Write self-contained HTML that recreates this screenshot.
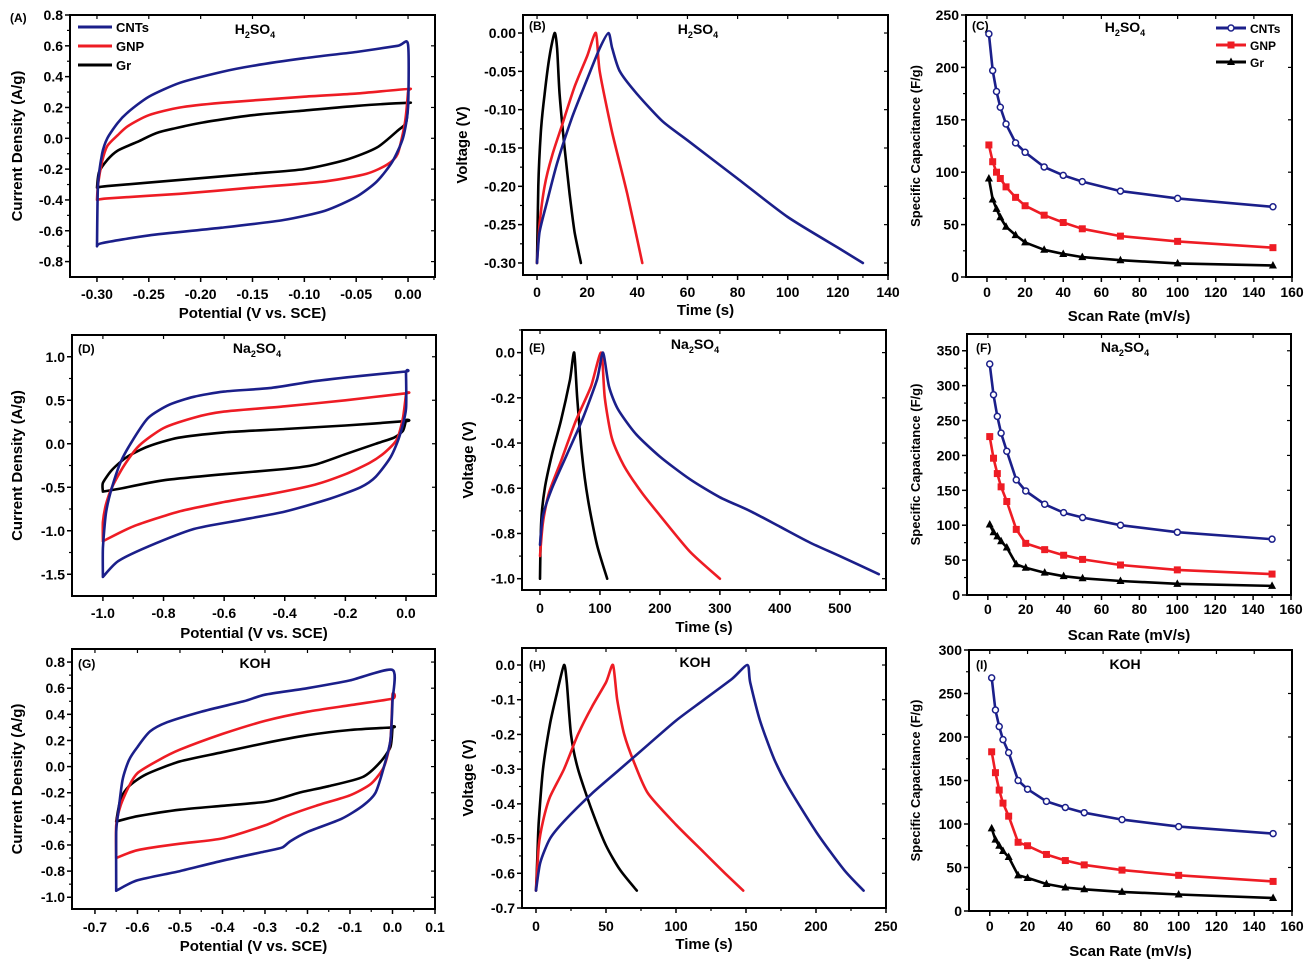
<!DOCTYPE html>
<html><head><meta charset="utf-8">
<style>
html,body{margin:0;padding:0;background:#fff;}
svg{display:block;font-family:"Liberation Sans",Arial,sans-serif;font-weight:bold;}
</style></head>
<body>
<svg id="fig" width="1315" height="965" viewBox="0 0 1315 965" xmlns="http://www.w3.org/2000/svg"></svg>
<script>
// ---- data ----
const rateX = [1,3,5,7,10,15,20,30,40,50,70,100,150];
const capC_CNT = [232,197,177,162,146,128,119,105,97,91,82,75,67];
const capC_GNP = [126,110,100,94,86,76,68,59,52,46,39,34,28];
const capC_Gr  = [94,74,65,57,48,40,33,26,22,19,16,13,11];
const capF_CNT = [331,287,256,232,206,165,149,130,118,111,100,90,80];
const capF_GNP = [227,196,174,155,134,94,74,65,57,51,43,36,30];
const capF_Gr  = [101,90,84,77,68,44,39,32,27,24,20,16,13];
const capI_CNT = [268,231,212,197,182,150,140,126,119,113,105,97,89];
const capI_GNP = [183,159,139,124,109,79,75,65,58,53,47,41,34];
const capI_Gr  = [95,82,75,69,62,41,38,31,27,25,22,19,15];

const cvA_CNT = [[-0.30,-0.70],[-0.299,-0.3],[-0.295,-0.1],[-0.29,0.0],[-0.28,0.1],[-0.27,0.17],[-0.25,0.27],[-0.22,0.36],[-0.18,0.43],[-0.15,0.47],[-0.10,0.52],[-0.05,0.56],[-0.01,0.6],[0,0.61],[0,0.2],[-0.005,0.0],[-0.015,-0.15],[-0.03,-0.28],[-0.05,-0.38],[-0.08,-0.47],[-0.12,-0.53],[-0.18,-0.58],[-0.25,-0.63],[-0.295,-0.68],[-0.30,-0.70]];
const cvA_GNP = [[-0.30,-0.40],[-0.299,-0.3],[-0.295,-0.15],[-0.29,-0.05],[-0.28,0.02],[-0.27,0.08],[-0.25,0.15],[-0.22,0.2],[-0.18,0.23],[-0.10,0.27],[-0.05,0.29],[0,0.32],[0,0.3],[-0.003,0.1],[-0.01,-0.1],[-0.02,-0.17],[-0.04,-0.23],[-0.08,-0.28],[-0.15,-0.32],[-0.22,-0.36],[-0.29,-0.39],[-0.30,-0.40]];
const cvA_Gr = [[-0.30,-0.32],[-0.298,-0.22],[-0.29,-0.14],[-0.28,-0.08],[-0.26,-0.02],[-0.24,0.04],[-0.2,0.1],[-0.15,0.15],[-0.10,0.18],[-0.05,0.21],[0,0.23],[0,0.22],[-0.002,0.1],[-0.01,0.05],[-0.03,-0.06],[-0.06,-0.14],[-0.1,-0.2],[-0.15,-0.23],[-0.22,-0.27],[-0.29,-0.31],[-0.30,-0.32]];
const cvD_CNT = [[-1,-1.53],[-1,-1.2],[-0.99,-0.8],[-0.97,-0.5],[-0.94,-0.2],[-0.9,0.05],[-0.85,0.3],[-0.78,0.45],[-0.7,0.54],[-0.6,0.6],[-0.45,0.64],[-0.3,0.72],[-0.15,0.78],[0,0.83],[0,0.82],[0,0.4],[-0.02,0.1],[-0.05,-0.15],[-0.1,-0.38],[-0.15,-0.5],[-0.25,-0.63],[-0.4,-0.78],[-0.55,-0.88],[-0.7,-0.98],[-0.85,-1.18],[-0.95,-1.35],[-1,-1.53]];
const cvD_GNP = [[-1,-1.12],[-1,-0.9],[-0.99,-0.7],[-0.97,-0.5],[-0.93,-0.25],[-0.88,-0.02],[-0.8,0.18],[-0.7,0.3],[-0.6,0.37],[-0.4,0.43],[-0.2,0.5],[0,0.58],[0,0.57],[-0.01,0.3],[-0.03,0.05],[-0.07,-0.1],[-0.12,-0.22],[-0.2,-0.35],[-0.3,-0.47],[-0.45,-0.58],[-0.6,-0.67],[-0.75,-0.78],[-0.9,-0.95],[-1,-1.12]];
const cvD_Gr = [[-1,-0.55],[-1,-0.45],[-0.97,-0.3],[-0.92,-0.15],[-0.85,-0.03],[-0.75,0.07],[-0.6,0.13],[-0.4,0.17],[-0.2,0.21],[0,0.26],[0,0.27],[-0.01,0.15],[-0.04,0.07],[-0.1,0.0],[-0.2,-0.12],[-0.3,-0.24],[-0.4,-0.29],[-0.6,-0.35],[-0.8,-0.42],[-0.95,-0.52],[-1,-0.55]];
const cvG_CNT = [[-0.65,-0.95],[-0.65,-0.5],[-0.645,-0.35],[-0.635,-0.1],[-0.62,0.05],[-0.6,0.15],[-0.57,0.27],[-0.53,0.34],[-0.45,0.42],[-0.35,0.5],[-0.3,0.55],[-0.2,0.6],[-0.1,0.66],[0,0.74],[0,0.5],[-0.005,0.2],[-0.02,0.0],[-0.04,-0.2],[-0.07,-0.3],[-0.12,-0.4],[-0.2,-0.5],[-0.24,-0.57],[-0.26,-0.62],[-0.3,-0.65],[-0.4,-0.72],[-0.5,-0.8],[-0.6,-0.87],[-0.65,-0.95]];
const cvG_GNP = [[-0.65,-0.7],[-0.65,-0.45],[-0.64,-0.3],[-0.62,-0.15],[-0.6,-0.05],[-0.55,0.05],[-0.5,0.13],[-0.4,0.25],[-0.3,0.35],[-0.2,0.42],[-0.1,0.47],[0,0.52],[0,0.55],[-0.005,0.2],[-0.02,0.0],[-0.05,-0.13],[-0.1,-0.22],[-0.18,-0.3],[-0.25,-0.38],[-0.3,-0.45],[-0.4,-0.55],[-0.5,-0.59],[-0.6,-0.64],[-0.65,-0.7]];
const cvG_Gr = [[-0.65,-0.42],[-0.64,-0.25],[-0.62,-0.15],[-0.58,-0.06],[-0.5,0.04],[-0.4,0.11],[-0.3,0.18],[-0.2,0.24],[-0.1,0.28],[0,0.3],[0,0.3],[-0.005,0.15],[-0.03,0.03],[-0.07,-0.08],[-0.15,-0.15],[-0.22,-0.2],[-0.26,-0.24],[-0.3,-0.27],[-0.4,-0.3],[-0.5,-0.33],[-0.6,-0.38],[-0.65,-0.42]];

const gcdB_Gr = [[0,-0.3],[0.5,-0.2],[1.5,-0.13],[3,-0.08],[5,-0.03],[7,0],[8,-0.02],[9,-0.08],[11,-0.15],[13,-0.21],[15,-0.26],[17.5,-0.30]];
const gcdB_GNP = [[0,-0.3],[1,-0.25],[3,-0.2],[6,-0.16],[10,-0.12],[15,-0.07],[20,-0.03],[23.5,0],[25,-0.05],[30,-0.13],[36,-0.21],[42,-0.30]];
const gcdB_CNT = [[0,-0.3],[1,-0.26],[4,-0.22],[8,-0.17],[14,-0.11],[20,-0.06],[25,-0.02],[28.5,0],[30,-0.02],[33,-0.05],[40,-0.08],[50,-0.115],[60,-0.14],[80,-0.19],[100,-0.24],[120,-0.28],[130,-0.30]];
const gcdE_Gr = [[0,-1],[2,-0.75],[8,-0.6],[20,-0.45],[35,-0.3],[50,-0.12],[57,0],[62,-0.2],[70,-0.45],[80,-0.65],[95,-0.85],[112,-1]];
const gcdE_GNP = [[0,-0.9],[5,-0.75],[15,-0.62],[35,-0.48],[60,-0.3],[85,-0.15],[102,0],[108,-0.2],[120,-0.38],[140,-0.5],[170,-0.62],[200,-0.72],[250,-0.88],[300,-1.0]];
const gcdE_CNT = [[0,-0.85],[5,-0.72],[20,-0.6],[45,-0.45],[70,-0.3],[95,-0.12],[105,0],[115,-0.15],[130,-0.25],[160,-0.36],[200,-0.46],[250,-0.56],[300,-0.64],[350,-0.7],[400,-0.77],[450,-0.84],[500,-0.9],[565,-0.98]];
const gcdH_Gr = [[0,-0.65],[1,-0.55],[2,-0.45],[5,-0.3],[10,-0.17],[15,-0.08],[20,0],[22,-0.05],[25,-0.2],[30,-0.3],[40,-0.42],[50,-0.52],[60,-0.59],[72,-0.65]];
const gcdH_GNP = [[0,-0.65],[2,-0.52],[5,-0.45],[10,-0.38],[20,-0.3],[30,-0.2],[40,-0.12],[50,-0.05],[55,0],[58,-0.1],[63,-0.2],[70,-0.28],[80,-0.37],[100,-0.46],[120,-0.54],[135,-0.6],[148,-0.65]];
const gcdH_CNT = [[0,-0.65],[3,-0.57],[10,-0.5],[20,-0.45],[40,-0.37],[60,-0.3],[80,-0.23],[100,-0.16],[120,-0.1],[140,-0.04],[151,0],[153,-0.05],[160,-0.16],[170,-0.27],[180,-0.35],[200,-0.48],[220,-0.59],[234,-0.65]];

const ticksA_x = [-0.30,-0.25,-0.20,-0.15,-0.10,-0.05,0.00];
const ticksA_y = [-0.8,-0.6,-0.4,-0.2,0.0,0.2,0.4,0.6,0.8];
const ticksB_x = [0,20,40,60,80,100,120,140];
const ticksB_y = [-0.30,-0.25,-0.20,-0.15,-0.10,-0.05,0.00];
const ticksCap_x = [0,20,40,60,80,100,120,140,160];
const ticksC_y = [0,50,100,150,200,250];
const ticksD_x = [-1.0,-0.8,-0.6,-0.4,-0.2,0.0];
const ticksD_y = [-1.5,-1.0,-0.5,0.0,0.5,1.0];
const ticksE_x = [0,100,200,300,400,500];
const ticksE_y = [-1.0,-0.8,-0.6,-0.4,-0.2,0.0];
const ticksF_y = [0,50,100,150,200,250,300,350];
const ticksG_x = [-0.7,-0.6,-0.5,-0.4,-0.3,-0.2,-0.1,0.0,0.1];
const ticksG_y = [-1.0,-0.8,-0.6,-0.4,-0.2,0.0,0.2,0.4,0.6,0.8];
const ticksH_x = [0,50,100,150,200,250];
const ticksH_y = [-0.7,-0.6,-0.5,-0.4,-0.3,-0.2,-0.1,0.0];
const ticksI_y = [0,50,100,150,200,250,300];

const BLUE='#1b1f8a', RED='#ee1c24', BLACK='#000';
const NS='http://www.w3.org/2000/svg';
const svg=document.getElementById('fig');
function mk(tag,attrs,parent){const e=document.createElementNS(NS,tag);for(const k in attrs)e.setAttribute(k,attrs[k]);(parent||svg).appendChild(e);return e;}

// smooth path (Catmull-Rom, reduced tension; sharp reversal points kept)
function smoothPath(P){
  let d='M'+P[0][0].toFixed(1)+','+P[0][1].toFixed(1);
  const k=0.35/3;
  for(let i=0;i<P.length-1;i++){
    const p0=P[Math.max(i-1,0)],p1=P[i],p2=P[i+1],p3=P[Math.min(i+2,P.length-1)];
    let c1x=p1[0]+(p2[0]-p0[0])*k,c1y=p1[1]+(p2[1]-p0[1])*k;
    let c2x=p2[0]-(p3[0]-p1[0])*k,c2y=p2[1]-(p3[1]-p1[1])*k;
    d+=`C${c1x.toFixed(1)},${c1y.toFixed(1)} ${c2x.toFixed(1)},${c2y.toFixed(1)} ${p2[0].toFixed(1)},${p2[1].toFixed(1)}`;
  }
  return d;
}

function panel(c){
  const g=mk('g',{});
  
  
  const sx=v=>c.L+(v-c.x0)/(c.x1-c.x0)*(c.R-c.L);
  const sy=v=>c.B-(v-c.y0)/(c.y1-c.y0)*(c.B-c.T);
  const fr=mk('rect',{x:c.L,y:c.T,width:c.R-c.L,height:c.B-c.T,fill:'none',stroke:'#000','stroke-width':2},g);
  
  
  const xs=c.xt[1]-c.xt[0];
  c.xt.forEach((v,i)=>{
    const x=sx(v);
    mk('line',{x1:x,y1:c.B,x2:x,y2:c.B+5,stroke:'#000','stroke-width':1.5},g);
    mk('line',{x1:x,y1:c.T,x2:x,y2:c.T+4,stroke:'#000','stroke-width':1.2},g);
    const mv=v+xs/2; if(mv<c.x1){const xm=sx(mv);mk('line',{x1:xm,y1:c.B,x2:xm,y2:c.B+3,stroke:'#000','stroke-width':1.2},g);}
    const t=mk('text',{x:x,y:c.xly,'text-anchor':'middle','font-size':14,fill:'#000'},g);
    t.textContent=v.toFixed(c.xd);
    
    
  });
  const ys=c.yt[1]-c.yt[0];
  c.yt.forEach(v=>{
    const y=sy(v);
    mk('line',{x1:c.L-5,y1:y,x2:c.L,y2:y,stroke:'#000','stroke-width':1.5},g);
    mk('line',{x1:c.R,y1:y,x2:c.R-4,y2:y,stroke:'#000','stroke-width':1.2},g);
    const mv=v+ys/2; if(mv<c.y1){const ym=sy(mv);mk('line',{x1:c.L-3,y1:ym,x2:c.L,y2:ym,stroke:'#000','stroke-width':1.2},g);}
    const t=mk('text',{x:c.L-7,y:y+5,'text-anchor':'end','font-size':14,fill:'#000'},g);
    t.textContent=v.toFixed(c.yd);
    
    
  });
  const xt=mk('text',{x:(c.L+c.R)/2,y:c.xty,'text-anchor':'middle','font-size':15,fill:'#000'},g);
  xt.textContent=c.xtitle;
  
  
  const ym=(c.T+c.B)/2;
  const yt=mk('text',{x:c.ytx,y:ym,'text-anchor':'middle','font-size':c.ytfs||15,fill:'#000',transform:`rotate(-90 ${c.ytx} ${ym})`},g);
  yt.textContent=c.ytitle;
  
  
  const pl=mk('text',{x:c.plx,y:c.ply,'font-size':12,fill:'#000'},g);
  pl.textContent=c.plabel;
  
  
  const ti=mk('text',{x:c.tx,y:c.ty,'text-anchor':'middle','font-size':14,fill:'#000'},g);
  
  
  c.title.forEach(p=>{const s=mk('tspan',p[1]?{'font-size':9,dy:4}:{'dy':p[2]||0},ti);s.textContent=p[0];});
  (c.curves||[]).forEach(s=>{
    const P=s.pts.map(p=>[sx(p[0]),sy(p[1])]);
    const p=mk('path',{d:smoothPath(P),fill:'none',stroke:s.color,'stroke-width':2.6,'stroke-linejoin':'round','stroke-linecap':'round'},g);
    
    
  });
  (c.caps||[]).forEach(s=>{
    const d=rateX.map((x,i)=>(i?'L':'M')+sx(x).toFixed(1)+','+sy(s.vals[i]).toFixed(1)).join('');
    const p=mk('path',{d:d,fill:'none',stroke:s.color,'stroke-width':2.6,'stroke-linejoin':'round'},g);
    
    
    rateX.forEach((x,i)=>{
      const px=sx(x),py=sy(s.vals[i]);let m;
      if(s.mk==='o') m=mk('circle',{cx:px,cy:py,r:3,fill:'#fff',stroke:s.color,'stroke-width':1.5},g);
      else if(s.mk==='s') m=mk('rect',{x:px-3.5,y:py-3.5,width:7,height:7,fill:s.color},g);
      else m=mk('polygon',{points:`${px},${py-4.5} ${px-4},${py+3} ${px+4},${py+3}`,fill:s.color},g);
      
      
    });
  });
  return g;
}

const cvTitle='Potential (V vs. SCE)', cdTitle='Current Density (A/g)';
const H2=[['H'],['2',1],['SO',0,-4],['4',1]];
const NA=[['Na'],['2',1],['SO',0,-4],['4',1]];
const KOH=[['KOH']];

panel({name:'panel-a-cv-h2so4',L:70,R:435,T:15,B:277,x0:-0.326,x1:0.026,y0:-0.9,y1:0.8,xt:ticksA_x,yt:ticksA_y,xd:2,yd:1,xly:299,xty:318,xtitle:cvTitle,ytx:22,ytitle:cdTitle,plabel:'(A)',plx:10,ply:22,tx:255,ty:34,title:H2,
  curves:[{pts:cvA_Gr,color:BLACK,label:'gr'},{pts:cvA_GNP,color:RED,label:'gnp'},{pts:cvA_CNT,color:BLUE,label:'cnts'}]});
panel({name:'panel-b-gcd-h2so4',L:523,R:888,T:15,B:275,x0:-5.6,x1:140,y0:-0.3157,y1:0.0235,xt:ticksB_x,yt:ticksB_y,xd:0,yd:2,xly:297,xty:315,xtitle:'Time (s)',ytx:467,ytitle:'Voltage (V)',plabel:'(B)',plx:529,ply:30,tx:698,ty:34,title:H2,
  curves:[{pts:gcdB_Gr,color:BLACK,label:'gr'},{pts:gcdB_GNP,color:RED,label:'gnp'},{pts:gcdB_CNT,color:BLUE,label:'cnts'}]});
panel({name:'panel-c-capacitance-h2so4',L:966,R:1292,T:15,B:277,x0:-11,x1:160,y0:0,y1:250,xt:ticksCap_x,yt:ticksC_y,xd:0,yd:0,xly:297,xty:321,xtitle:'Scan Rate (mV/s)',ytx:920,ytfs:13,ytitle:'Specific Capacitance (F/g)',plabel:'(C)',plx:972,ply:30,tx:1125,ty:32,title:H2,
  caps:[{vals:capC_Gr,color:BLACK,mk:'t',label:'gr'},{vals:capC_GNP,color:RED,mk:'s',label:'gnp'},{vals:capC_CNT,color:BLUE,mk:'o',label:'cnts'}]});
panel({name:'panel-d-cv-na2so4',L:72,R:436,T:335,B:596,x0:-1.102,x1:0.099,y0:-1.75,y1:1.25,xt:ticksD_x,yt:ticksD_y,xd:1,yd:1,xly:618,xty:638,xtitle:cvTitle,ytx:22,ytitle:cdTitle,plabel:'(D)',plx:78,ply:353,tx:257,ty:353,title:NA,
  curves:[{pts:cvD_Gr,color:BLACK,label:'gr'},{pts:cvD_GNP,color:RED,label:'gnp'},{pts:cvD_CNT,color:BLUE,label:'cnts'}]});
panel({name:'panel-e-gcd-na2so4',L:522,R:886,T:330,B:590,x0:-30,x1:577,y0:-1.05,y1:0.10,xt:ticksE_x,yt:ticksE_y,xd:0,yd:1,xly:613,xty:632,xtitle:'Time (s)',ytx:473,ytitle:'Voltage (V)',plabel:'(E)',plx:529,ply:352,tx:695,ty:349,title:NA,
  curves:[{pts:gcdE_Gr,color:BLACK,label:'gr'},{pts:gcdE_GNP,color:RED,label:'gnp'},{pts:gcdE_CNT,color:BLUE,label:'cnts'}]});
panel({name:'panel-f-capacitance-na2so4',L:967,R:1291,T:334,B:595,x0:-11,x1:160,y0:0,y1:374,xt:ticksCap_x,yt:ticksF_y,xd:0,yd:0,xly:614,xty:640,xtitle:'Scan Rate (mV/s)',ytx:920,ytfs:13,ytitle:'Specific Capacitance (F/g)',plabel:'(F)',plx:976,ply:352,tx:1125,ty:352,title:NA,
  caps:[{vals:capF_Gr,color:BLACK,mk:'t',label:'gr'},{vals:capF_GNP,color:RED,mk:'s',label:'gnp'},{vals:capF_CNT,color:BLUE,mk:'o',label:'cnts'}]});
panel({name:'panel-g-cv-koh',L:72,R:435,T:649,B:909,x0:-0.754,x1:0.1,y0:-1.09,y1:0.9,xt:ticksG_x,yt:ticksG_y,xd:1,yd:1,xly:932,xty:951,xtitle:cvTitle,ytx:22,ytitle:cdTitle,plabel:'(G)',plx:78,ply:668,tx:255,ty:668,title:KOH,
  curves:[{pts:cvG_Gr,color:BLACK,label:'gr'},{pts:cvG_GNP,color:RED,label:'gnp'},{pts:cvG_CNT,color:BLUE,label:'cnts'}]});
panel({name:'panel-h-gcd-koh',L:522,R:886,T:648,B:908,x0:-10,x1:250,y0:-0.7,y1:0.049,xt:ticksH_x,yt:ticksH_y,xd:0,yd:1,xly:931,xty:949,xtitle:'Time (s)',ytx:473,ytitle:'Voltage (V)',plabel:'(H)',plx:529,ply:669,tx:695,ty:667,title:KOH,
  curves:[{pts:gcdH_Gr,color:BLACK,label:'gr'},{pts:gcdH_GNP,color:RED,label:'gnp'},{pts:gcdH_CNT,color:BLUE,label:'cnts'}]});
panel({name:'panel-i-capacitance-koh',L:969,R:1292,T:650,B:911,x0:-11,x1:160,y0:0,y1:300,xt:ticksCap_x,yt:ticksI_y,xd:0,yd:0,xly:931,xty:956,xtitle:'Scan Rate (mV/s)',ytx:920,ytfs:13,ytitle:'Specific Capacitance (F/g)',plabel:'(I)',plx:976,ply:669,tx:1125,ty:669,title:KOH,
  caps:[{vals:capI_Gr,color:BLACK,mk:'t',label:'gr'},{vals:capI_GNP,color:RED,mk:'s',label:'gnp'},{vals:capI_CNT,color:BLUE,mk:'o',label:'cnts'}]});

const legNames=['CNTs','GNP','Gr'], legCols=[BLUE,RED,BLACK], legMk=['o','s','t'];
legNames.forEach((n,i)=>{
  const y=27+i*19;
  const l=mk('line',{x1:78,y1:y,x2:112,y2:y,stroke:legCols[i],'stroke-width':3});
  
  
  const t=mk('text',{x:116,y:y+5,'font-size':13,fill:'#000'});t.textContent=n;
  
  
  const y2=28+i*17;
  const l2=mk('line',{x1:1216,y1:y2,x2:1246,y2:y2,stroke:legCols[i],'stroke-width':3});
  
  
  let m;
  if(legMk[i]==='o') m=mk('circle',{cx:1231,cy:y2,r:3,fill:'#fff',stroke:BLUE,'stroke-width':1.5});
  else if(legMk[i]==='s') m=mk('rect',{x:1227.5,y:y2-3.5,width:7,height:7,fill:RED});
  else m=mk('polygon',{points:`1231,${y2-4.5} 1227,${y2+3} 1235,${y2+3}`,fill:BLACK});
  
  
  const t2=mk('text',{x:1250,y:y2+5,'font-size':12,fill:'#000'});t2.textContent=n;
  
  
});
</script>
</body></html>
